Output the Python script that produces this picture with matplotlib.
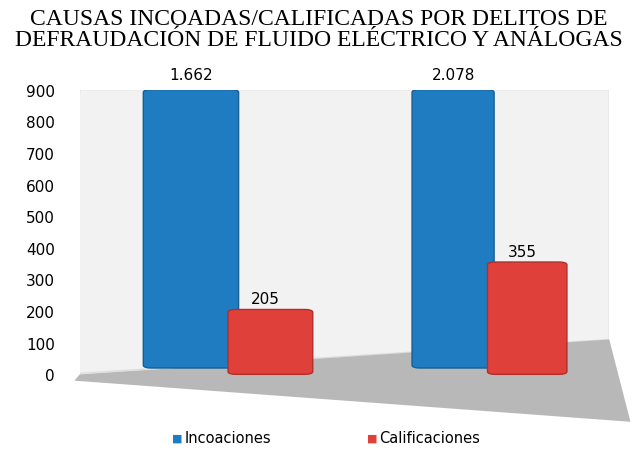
import matplotlib
matplotlib.use("Agg")
import matplotlib.pyplot as plt
from matplotlib.patches import Polygon, FancyBboxPatch

groups = ["Grupo 1", "Grupo 2"]
incoaciones = [1662, 2078]
calificaciones = [205, 355]
yticks = [0, 100, 200, 300, 400, 500, 600, 700, 800, 900]

fig = plt.figure(figsize=(6.38, 4.52), dpi=100)
ax = fig.add_axes([0.125, 0.0996, 0.83, 0.70])
ax.set_xlim(0, 10)
ax.set_ylim(-100, 900)

# back wall and floor
ax.add_patch(Polygon([[-0.3, 0], [0, 900], [10, 900], [10, 110]], closed=True,
                     facecolor="#f2f2f2", edgecolor="#dddddd", zorder=0))
ax.add_patch(Polygon([[0, 0], [10, 110], [10.4, -150], [-0.1, -20]], closed=True,
                     facecolor="#b8b8b8", edgecolor="none", zorder=1, clip_on=False))

blue_x = [2.1, 7.05]
red_x = [3.6, 8.45]
blue_w = [1.8, 1.55]
red_w = [1.6, 1.5]
top = ax.get_ylim()[1]
for i in range(len(groups)):
    h = min(incoaciones[i], top)
    ax.add_patch(FancyBboxPatch((blue_x[i] - blue_w[i] / 2, 20), blue_w[i], h - 20,
                                boxstyle="round,pad=0,rounding_size=0.15",
                                mutation_aspect=60, facecolor="#1f7cc1",
                                edgecolor="#165f95", zorder=3, clip_on=True))
    ax.text(blue_x[i], top + 25, f"{incoaciones[i]:,}".replace(",", "."),
            ha="center", va="bottom", fontsize=11, clip_on=False)
    ax.add_patch(FancyBboxPatch((red_x[i] - red_w[i] / 2, 0), red_w[i], calificaciones[i],
                                boxstyle="round,pad=0,rounding_size=0.15",
                                mutation_aspect=60, facecolor="#e0403a",
                                edgecolor="#b22e2a", zorder=4))
    ax.text(red_x[i] - 0.1, calificaciones[i] + 10, str(calificaciones[i]),
            ha="center", va="bottom", fontsize=11, zorder=5)

ax.set_yticks(yticks)
ax.set_yticklabels([str(t) for t in yticks], fontsize=11)
ax.tick_params(axis="y", length=0, pad=18)
ax.set_xticks([])
for s in ax.spines.values():
    s.set_visible(False)

fig.text(0.5, 0.98, "CAUSAS INCOADAS/CALIFICADAS POR DELITOS DE\nDEFRAUDACIÓN DE FLUIDO ELÉCTRICO Y ANÁLOGAS",
         ha="center", va="top", fontsize=17, family="Liberation Serif", linespacing=1.0)

fig.text(0.27, 0.03, "■", color="#1f7cc1", fontsize=8, va="center")
fig.text(0.29, 0.03, "Incoaciones", fontsize=10.5, va="center")
fig.text(0.575, 0.03, "■", color="#e0403a", fontsize=8, va="center")
fig.text(0.595, 0.03, "Calificaciones", fontsize=10.5, va="center")

fig.savefig("out.png", dpi=100)
